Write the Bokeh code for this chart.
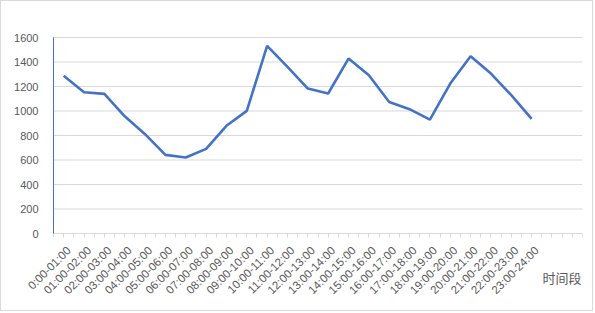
from bokeh.plotting import figure
from bokeh.models import FixedTicker, Range1d, Label, ColumnDataSource
from bokeh.embed import file_html
from bokeh.resources import INLINE
import math

categories = ["0:00-01:00", "01:00-02:00", "02:00-03:00", "03:00-04:00", "04:00-05:00",
              "05:00-06:00", "06:00-07:00", "07:00-08:00", "08:00-09:00", "09:00-10:00",
              "10:00-11:00", "11:00-12:00", "12:00-13:00", "13:00-14:00", "14:00-15:00",
              "15:00-16:00", "16:00-17:00", "17:00-18:00", "18:00-19:00", "19:00-20:00",
              "20:00-21:00", "21:00-22:00", "22:00-23:00", "23:00-24:00"]
values = [1287, 1153, 1140, 957, 811, 642, 620, 691, 879, 1001,
          1532, 1360, 1183, 1143, 1428, 1292, 1074, 1015, 930, 1224,
          1447, 1306, 1129, 936]
y_ticks = [0, 200, 400, 600, 800, 1000, 1200, 1400, 1600]
n_slots = 26
x_title = "时间段"

xs = [i + 0.5 for i in range(len(categories))]
src = ColumnDataSource(dict(x=xs, y=values))

# plot area in page px: left 53, right 582, top 37, zero line 233
px_per_y = 196.0 / 1600.0
px_per_x = (582 - 53) / n_slots
y_min = 1600 - (312 - 37) / px_per_y
y_max = 1600 + (37 - 1) / px_per_y
x_min = -(53 - 1) / px_per_x

p = figure(width=593, height=311, output_backend="svg", toolbar_location=None,
           x_range=Range1d(x_min, n_slots), y_range=Range1d(y_min, y_max),
           min_border_left=0, min_border_right=12, min_border_top=0, min_border_bottom=0)
p.outline_line_color = None
p.background_fill_color = "white"
p.border_fill_color = "white"
p.styles = {"border": "1px solid #d9d9d9"}

# horizontal gridlines limited to the plot area
p.xgrid.grid_line_color = None
p.ygrid.grid_line_color = None
p.segment(x0=[0] * len(y_ticks), y0=y_ticks, x1=[n_slots] * len(y_ticks), y1=y_ticks,
          line_color="#d9d9d9", line_width=1)

p.line("x", "y", source=src, line_color="#4472C4", line_width=2.6)

# x axis drawn at value 0; labels anchored slightly right of category centre
label_pos = [x + 0.25 for x in xs]
xa = p.xaxis[0]
xa.fixed_location = 0
xa.bounds = (0, n_slots)
xa.ticker = FixedTicker(ticks=label_pos, minor_ticks=[i * 0.5 for i in range(2 * n_slots + 1)])
xa.major_label_overrides = {x: c for x, c in zip(label_pos, categories)}
xa.major_label_orientation = math.pi / 4
xa.axis_line_color = "#d9d9d9"
xa.major_tick_line_color = None
xa.minor_tick_line_color = "#d9d9d9"
xa.major_tick_out = 4
xa.major_tick_in = 0
xa.minor_tick_out = 4
xa.minor_tick_in = 0
xa.major_label_standoff = 11
xa.major_label_text_font = "Liberation Sans"
xa.major_label_text_font_size = "11.5px"
xa.major_label_text_color = "#595959"

# y axis drawn at x = 0
ya = p.yaxis[0]
ya.fixed_location = 0
ya.ticker = FixedTicker(ticks=y_ticks)
ya.bounds = (0, 1600)
ya.axis_line_color = "#4472C4"
ya.axis_line_width = 1
ya.major_tick_line_color = None
ya.minor_tick_line_color = None
ya.major_label_standoff = 9
ya.major_label_text_font = "Liberation Sans"
ya.major_label_text_font_size = "11px"
ya.major_label_text_color = "#595959"

p.add_layout(Label(x=n_slots - 0.05, y=-44 / px_per_y, text=x_title,
                   text_align="right", text_baseline="middle",
                   text_font="Noto Sans CJK SC", text_font_size="13px", text_color="#595959"))

open("out.html", "w").write(file_html(p, INLINE))
